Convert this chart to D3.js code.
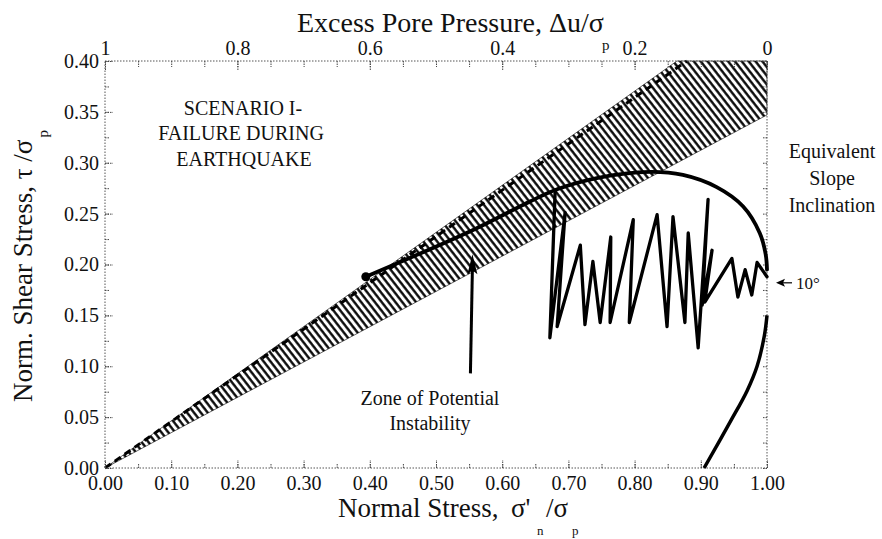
<!DOCTYPE html>
<html><head><meta charset="utf-8">
<script src="https://cdn.jsdelivr.net/npm/d3@7"></script>
<style>
body{margin:0;background:#fff}
svg text{font-family:"Liberation Serif","Times New Roman",serif;fill:#111}
</style>
</head><body>
<svg id="chart" width="882" height="539"></svg>
<script>
// ---- data ----
const xTicks = [0,0.1,0.2,0.3,0.4,0.5,0.6,0.7,0.8,0.9,1.0];
const xTickLabels = ["0.00","0.10","0.20","0.30","0.40","0.50","0.60","0.70","0.80","0.90","1.00"];
const yTicks = [0,0.05,0.1,0.15,0.2,0.25,0.3,0.35,0.4];
const yTickLabels = ["0.00","0.05","0.10","0.15","0.20","0.25","0.30","0.35","0.40"];
const topTicks = [1,0.8,0.6,0.4,0.2,0];
const topTickLabels = ["1","0.8","0.6","0.4","0.2","0"];

// zone of potential instability (hatched band)
const bandX = [0, 0.864, 1.0, 1.0];
const bandY = [0, 0.40, 0.40, 0.347];
// dashed failure line
const failX = [0, 0.879];
const failY = [0, 0.40];
// pre-earthquake stress path (thick curve)
const pathX = [0.394,0.556,0.642,0.683,0.743,0.823,0.873,0.924,0.964,0.989,0.998,1.0];
const pathY = [0.188,0.234,0.262,0.274,0.285,0.291,0.288,0.276,0.257,0.231,0.210,0.195];
// lower curve
const lowX = [0.905,0.945,0.970,0.985,0.996,1.0];
const lowY = [0.0,0.046,0.076,0.100,0.130,0.150];
// earthquake cyclic stress path
const quakeX = [0.680,0.672,0.695,0.683,0.718,0.725,0.737,0.748,0.764,0.763,0.798,0.792,0.834,0.849,0.858,0.876,0.881,0.896,0.911,0.902,0.917,0.906,0.947,0.956,0.967,0.977,0.985,1.0];
const quakeY = [0.273,0.128,0.251,0.139,0.219,0.141,0.203,0.143,0.227,0.143,0.244,0.143,0.249,0.139,0.247,0.143,0.231,0.118,0.264,0.160,0.214,0.163,0.206,0.168,0.195,0.170,0.202,0.188];
// annotations
const slopeAngleLabel = "10°";
const slopeAngleTau = 0.182;
const zoneArrowX = [0.552, 0.555];
const zoneArrowY = [0.093, 0.210];

// ---- layout ----
const svg = d3.select("#chart");
const L = 105, R = 767, T = 61, B = 468;
const x = d3.scaleLinear().domain([0,1]).range([L,R]);
const y = d3.scaleLinear().domain([0,0.4]).range([B,T]);
const xt = d3.scaleLinear().domain([1,0]).range([L,R]);
const FS = 20;

// hatch pattern
const defs = svg.append("defs");
defs.append("pattern").attr("id","hatch").attr("patternUnits","userSpaceOnUse")
  .attr("width",5.4).attr("height",10).attr("patternTransform","rotate(-38)")
  .append("line").attr("x1",1.4).attr("x2",1.4).attr("y1",-1).attr("y2",11)
  .attr("stroke","#000").attr("stroke-width",2.3);

const line = d3.line().x(d=>x(d[0])).y(d=>y(d[1]));

// band
svg.append("path").datum(d3.zip(bandX,bandY))
  .attr("d", d3.line().x(d=>x(d[0])).y(d=>y(d[1])).curve(d3.curveLinearClosed))
  .attr("fill","url(#hatch)").attr("stroke","#000").attr("stroke-width",0.6);

// dashed failure line
svg.append("path").datum(d3.zip(failX,failY)).attr("d",line)
  .attr("fill","none").attr("stroke","#000").attr("stroke-width",3)
  .attr("stroke-dasharray","7,5");

// frame (dotted)
svg.append("rect").attr("x",L).attr("y",T).attr("width",R-L).attr("height",B-T)
  .attr("fill","none").attr("stroke","#555").attr("stroke-width",1).attr("stroke-dasharray","1.5,1.5");

// axes
function styleAxis(g){
  g.select(".domain").remove();
  g.selectAll(".tick line").attr("stroke","#444").attr("stroke-dasharray","1.5,1");
  g.selectAll("text").style("font-size",FS+"px").attr("fill","#111");
}
const minorX = d3.range(0,1.0001,0.05);
svg.append("g").attr("transform",`translate(0,${B})`)
  .call(d3.axisBottom(x).tickValues(minorX).tickSize(-5).tickFormat("")).call(styleAxis);
svg.append("g").attr("transform",`translate(0,${B})`)
  .call(d3.axisBottom(x).tickValues(xTicks).tickSize(-8).tickPadding(8)
    .tickFormat((d,i)=>xTickLabels[i])).call(styleAxis);

const minorY = d3.range(0,0.4001,0.025);
svg.append("g").attr("transform",`translate(${L},0)`)
  .call(d3.axisLeft(y).tickValues(minorY).tickSize(-5).tickFormat("")).call(styleAxis);
svg.append("g").attr("transform",`translate(${L},0)`)
  .call(d3.axisLeft(y).tickValues(yTicks).tickSize(-8).tickPadding(6)
    .tickFormat((d,i)=>yTickLabels[i])).call(styleAxis);
svg.append("g").attr("transform",`translate(${R},0)`)
  .call(d3.axisRight(y).tickValues(minorY).tickSize(-5).tickFormat("")).call(styleAxis);

const minorT = d3.range(0,1.0001,0.05);
svg.append("g").attr("transform",`translate(0,${T})`)
  .call(d3.axisTop(xt).tickValues(minorT).tickSize(-6).tickFormat("")).call(styleAxis);
svg.append("g").attr("transform",`translate(0,${T})`)
  .call(d3.axisTop(xt).tickValues(topTicks).tickSize(-9).tickPadding(6)
    .tickFormat((d,i)=>topTickLabels[i])).call(styleAxis);

// lower curve
svg.append("path").datum(d3.zip(lowX,lowY))
  .attr("d", d3.line().x(d=>x(d[0])).y(d=>y(d[1])).curve(d3.curveCatmullRom))
  .attr("fill","none").attr("stroke","#000").attr("stroke-width",3.5);

// stress path (thick)
svg.append("path").datum(d3.zip(pathX,pathY))
  .attr("d", d3.line().x(d=>x(d[0])).y(d=>y(d[1])).curve(d3.curveCatmullRom))
  .attr("fill","none").attr("stroke","#000").attr("stroke-width",3.8).attr("stroke-linecap","round");
svg.append("circle").attr("cx",x(pathX[0])).attr("cy",y(pathY[0])).attr("r",4.5).attr("fill","#000");

// earthquake path
svg.append("path").datum(d3.zip(quakeX,quakeY)).attr("d",line)
  .attr("fill","none").attr("stroke","#000").attr("stroke-width",3.3)
  .attr("stroke-linejoin","round").attr("stroke-linecap","round");

// zone arrow
const ax0 = x(zoneArrowX[0]), ay0 = y(zoneArrowY[0]), ax1 = x(zoneArrowX[1]), ay1 = y(zoneArrowY[1]);
svg.append("line").attr("x1",ax0).attr("y1",ay0).attr("x2",ax1).attr("y2",ay1+14)
  .attr("stroke","#000").attr("stroke-width",3);
svg.append("path").attr("d",`M${ax1},${ay1} L${ax1-5},${ay1+20} L${ax1},${ay1+16} L${ax1+5},${ay1+20} Z`)
  .attr("fill","#000");

// 10° arrow
const sy = y(slopeAngleTau), sx = x(1.0)+9;
svg.append("line").attr("x1",sx+6).attr("y1",sy).attr("x2",sx+16).attr("y2",sy)
  .attr("stroke","#000").attr("stroke-width",1.2);
svg.append("path").attr("d",`M${sx},${sy} L${sx+9},${sy-4} L${sx+7},${sy} L${sx+9},${sy+4} Z`).attr("fill","#000");
svg.append("text").attr("x",sx+20).attr("y",sy+6).style("font-size","17px").text(slopeAngleLabel);

// texts
function txt(t,xx,yy,fs,anchor){
  return svg.append("text").attr("x",xx).attr("y",yy).attr("text-anchor",anchor||"middle")
    .style("font-size",fs+"px").text(t);
}
txt("SCENARIO I-",243,115,20);
txt("FAILURE DURING",241,140,20);
txt("EARTHQUAKE",244,166,20);
txt("Zone of Potential",430,405,20);
txt("Instability",430,430,20);
txt("Equivalent",832,158,20);
txt("Slope",832,185,20);
txt("Inclination",832,212,20);

// axis titles
const topT = svg.append("text").attr("x",297).attr("y",32).style("font-size","28px");
topT.append("tspan").text("Excess Pore Pressure, \u0394u/\u03c3");
topT.append("tspan").attr("x",602).attr("dy",18).style("font-size","15px").text("p");

const botT = svg.append("text").attr("x",338).attr("y",517).style("font-size","27px");
botT.append("tspan").text("Normal Stress,");
botT.append("tspan").attr("x",511).text("\u03c3'");
botT.append("tspan").attr("x",537).attr("dy",18).style("font-size","13px").text("n");
botT.append("tspan").attr("x",546).attr("dy",-18).text("/\u03c3");
botT.append("tspan").attr("x",572).attr("dy",18).style("font-size","13px").text("p");

const yT = svg.append("text").attr("transform","translate(32,402) rotate(-90)").style("font-size","27px");
yT.append("tspan").text("Norm. Shear Stress, \u03c4 /\u03c3");
yT.append("tspan").attr("dx",2).attr("dy",16).style("font-size","15px").text("p");
</script>
</body></html>
